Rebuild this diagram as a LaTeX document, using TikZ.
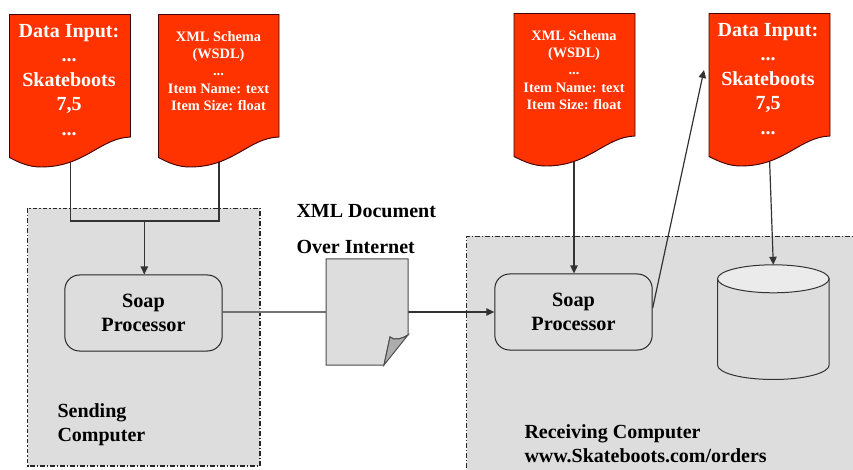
\documentclass[tikz,border=0pt]{standalone}
\usepackage{fontspec}
\setmainfont{Liberation Serif}
\usetikzlibrary{arrows.meta,shapes.geometric}
\definecolor{docred}{RGB}{255,51,0}
\definecolor{boxgray}{RGB}{221,221,221}
\tikzset{every picture/.style={line width=0.75pt}}
\tikzset{
  hostbox/.style={draw=black!85,line width=0.8pt,dash pattern=on 3.5pt off 1.5pt on 1pt off 1.5pt},
  redpage/.style={draw=black!75!red,fill=docred,line width=0.7pt},
  redbig/.style={text=white,align=center,font=\fontsize{15}{18.4}\selectfont\bfseries},
  redsmall/.style={text=white,align=center,font=\fontsize{10.8}{13}\selectfont\bfseries},
  blacklabel/.style={align=left,anchor=base west,inner sep=0pt,font=\fontsize{15}{18.4}\selectfont\bfseries},
  soapbox/.style={draw=black!85,fill=boxgray,rounded corners=11pt,minimum width=118pt,minimum height=57pt,inner sep=0pt,align=center,font=\fontsize{15.2}{18.4}\selectfont\bfseries},
  dbtop/.style={draw=black!80,fill=black!8,ellipse,minimum width=83.6pt,minimum height=21pt,inner sep=0pt,outer sep=0pt},
  link/.style={draw=black!80,line width=0.9pt},
  flow/.style={link,-{Triangle[length=6pt,width=5.5pt]}}
}

\begin{document}
\begin{tikzpicture}[x=0.75pt,y=0.75pt,yscale=-1,xscale=1]
\useasboundingbox (0,0) rectangle (853,470);

%Shape: Sending and receiving hosts
\fill [boxgray] (27.5,208.5) rectangle (260,466);
\draw [hostbox] (27.5,208.5) rectangle (260,466);
\fill [boxgray] (466.5,236.5) rectangle (860,476);
\draw [hostbox] (860,236.5) -- (466.5,236.5) -- (466.5,476);

%Shape: Connector ends
\coordinate (inputleftend) at (70.3,159);
\coordinate (schemaleftend) at (219,159);
\coordinate (joinleft) at (70.3,221);
\coordinate (joinright) at (219,221);
\coordinate (joinmid) at (144.3,221);
\coordinate (schemarightend) at (574,158);
\coordinate (inputrightend) at (769.5,158);
\coordinate (arrowtop) at (704,70);
\coordinate (xmlleft) at (326,312);
\coordinate (xmlright) at (408,312);

%Shape: Processors and database
\node [soapbox] (soapleft) at (143.5,313) {Soap\\Processor};
\node [soapbox] (soapright) at (573.5,312) {Soap\\Processor};
\draw [draw=black!80,fill=boxgray] (717.5,278.5) -- (717.5,365) .. controls (717.5,373) and (742,379.5) .. (773.3,379.5) .. controls (804.5,379.5) and (829.2,373) .. (829.2,365) -- (829.2,278.5) -- cycle;
\node [dbtop] (database) at (773.3,278.8) {};

%Shape: Connectors
\draw [link] (inputleftend) -- (joinleft) -- (joinright) -- (schemaleftend);
\draw [flow] (joinmid) -- (soapleft.north -| joinmid);
\draw [link,draw=black!55] (soapleft.east |- xmlleft) -- (xmlleft);
\draw [flow] (xmlright) -- (soapright.west |- xmlright);
\draw [flow] (schemarightend) -- (soapright.north -| schemarightend);
\draw [flow] ([yshift=-3pt]soapright.east) -- (arrowtop);
\draw [flow] (inputrightend) -- (database.north);

%Shape: Document pages
\draw [redpage] (9.5,14.5) -- (130.5,14.5) -- (130.5,137) .. controls (100,138) and (85,167) .. (41,167) .. controls (28,167) and (18,162) .. (9.5,157.5) -- cycle;
\draw [redpage] (158.5,14.5) -- (279,14.5) -- (279,137) .. controls (248.5,138) and (233.5,167) .. (190,167) .. controls (177,167) and (167,162) .. (158.5,157.5) -- cycle;
\draw [redpage] (514,13.5) -- (635,13.5) -- (635,136) .. controls (604.5,137) and (589.5,166) .. (546,166) .. controls (533,166) and (523,161) .. (514,156.5) -- cycle;
\draw [redpage] (709,13.5) -- (830,13.5) -- (830,136) .. controls (799.5,137) and (784.5,166) .. (741,166) .. controls (728,166) and (718,161) .. (709,156.5) -- cycle;

%Shape: Internet document
\draw [draw=black!70,fill=boxgray] (326,259) -- (408,259) -- (408,335) .. controls (402,339) and (394,341) .. (390,337) -- (384,365) -- (326,365) -- cycle;
\draw [draw=black!70,fill=black!32] (408,335) .. controls (402,339) and (394,341) .. (390,337) -- (384,365) -- cycle;

%Shape: Document texts
\node [redbig] (inputlefttext) at (69,80) {Data Input:\\...\\Skateboots\\7,5\\...};
\node [redsmall] (schemalefttext) at (218.5,71) {XML Schema\\(WSDL)\\...\\Item Name: text\\Item Size: float};
\node [redsmall] (schemarighttext) at (574,70) {XML Schema\\(WSDL)\\...\\Item Name: text\\Item Size: float};
\node [redbig] (inputrighttext) at (768,79) {Data Input:\\...\\Skateboots\\7,5\\...};

%Shape: Black labels
\node [blacklabel] (xmltitle) at (296,218) {XML Document};
\node [blacklabel] (xmlsub) at (296,254) {Over Internet};
\node [blacklabel] (sendinglabel) at (57,417) {Sending};
\node [blacklabel] (sendinglabelb) at (57,441.5) {Computer};
\node [blacklabel] (receivinglabel) at (524,438) {Receiving Computer};
\node [blacklabel] (receivinglabelb) at (524,462) {www.Skateboots.com/orders};
\end{tikzpicture}
\end{document}
